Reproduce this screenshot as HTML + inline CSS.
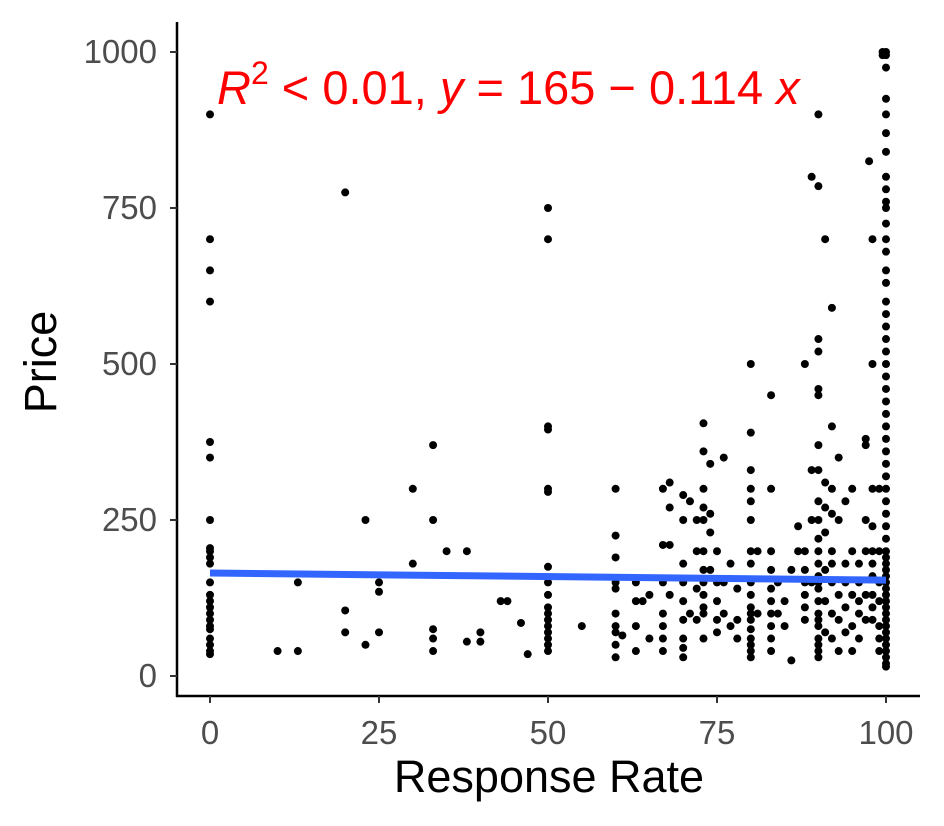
<!DOCTYPE html>
<html><head><meta charset="utf-8"><style>
html,body{margin:0;padding:0;background:#fff}
svg{display:block;font-family:"Liberation Sans",Arial,sans-serif}
</style></head><body>
<svg id="chart" width="944" height="826">
<g id="points"></g>
<g id="axes"></g>
</svg>
<script>
const colX = [0,10,13,20,23,25,30,33,35,38,40,43,44,46,47,50,55,60,61,63,64,65,67,68,70,71,72,73,74,75,76,77,78,80,81,83,84,85,86,87,88,89,90,91,92,93,94,95,96,97,97.5,98,99,99.5,100];
const colY = [
[900,700,650,600,375,350,250,205,200,190,180,150,130,120,110,100,90,80,75,60,50,40,35],
[40],[150,40],[775,105,70],[250,50],[150,135,70],[300,180],[370,250,75,60,40],[200],[200,55],[70,55],[120],[120],[85],[35],
[750,700,400,395,300,295,175,150,130,110,100,90,80,70,60,50,40],[80],
[300,225,190,150,140,100,80,70,50,30],[65],[150,120,80,40],[120],[130,60],[300,210,150,100,80,60,40],[310,270,210,130],
[290,250,180,150,120,90,60,45,30],[280,100],[250,200,140,90],[405,360,300,270,250,200,170,150,130,110,100,60],[340,260,230,170],
[200,150,120,90,70],[350,150,100],[180,80],[140,90,60],
[500,390,330,300,280,250,200,180,150,130,110,100,90,75,60,50,40,30],[200,100],[450,300,200,170,140,120,100,80,60,40],[150,100],[120,80],[25,170],[240,200],
[500,200,170,150,130,110,90],[800,330,250,150],
[900,785,540,520,460,450,370,330,280,250,220,200,180,160,150,140,120,100,90,80,60,50,40,30],
[700,310,270,230,170,120,70],[590,400,300,260,200,180,150,100,60],[350,250,130,90,40],[280,180,150,110,70],[300,200,130,80,40],
[180,150,120,100,60],[380,370,250,200,130,90],[825],[700,500,300,240,200,180,160,130,110,90],[300,200,150,120,80,60,40],[1000,995],
[1000,995,975,925,900,870,840,800,780,760,750,725,700,680,650,630,600,580,560,540,520,500,480,460,440,420,400,380,360,340,320,300,280,260,240,220,200,190,180,170,160,150,140,130,120,110,100,90,80,70,60,50,40,30,20,15]
];
const xTicks = [0,25,50,75,100];
const yTicks = [0,250,500,750,1000];
const fitIntercept = 165, fitSlope = -0.114;

const NS="http://www.w3.org/2000/svg";
const sx = v => 210 + v*6.76;
const sy = v => 676 - v*0.624;
function mk(tag, attrs, parent){const e=document.createElementNS(NS,tag);for(const k in attrs)e.setAttribute(k,attrs[k]);parent.appendChild(e);return e;}
const P=document.getElementById('points'), A=document.getElementById('axes');
colX.forEach((x,i)=>colY[i].forEach(y=>{
  const c=mk('circle',{cx:sx(x),cy:sy(y),r:4,fill:'#000'},P);
  
  
}));
const fl=mk('line',{x1:sx(0),y1:sy(fitIntercept),x2:sx(100),y2:sy(fitIntercept+fitSlope*100),stroke:'#3366FF',"stroke-width":7},P);


const ya=mk('line',{x1:177,y1:22,x2:177,y2:697,stroke:'#000','stroke-width':2.5},A);


const xa=mk('line',{x1:176,y1:696,x2:920,y2:696,stroke:'#000','stroke-width':2.5},A);


yTicks.forEach(t=>{
  mk('line',{x1:170,y1:sy(t),x2:177,y2:sy(t),stroke:'#333','stroke-width':2},A);
  const tx=mk('text',{x:157,y:sy(t)+11,'text-anchor':'end','font-size':33,fill:'#4d4d4d'},A);
  tx.textContent=t;
  
  
});
xTicks.forEach(t=>{
  mk('line',{x1:sx(t),y1:696,x2:sx(t),y2:703,stroke:'#333','stroke-width':2},A);
  const tx=mk('text',{x:sx(t),y:744,'text-anchor':'middle','font-size':33,fill:'#4d4d4d'},A);
  tx.textContent=t;
  
  
});
</script>
<svg width="944" height="826" style="position:absolute;left:0;top:0">
<text x="549" y="792" text-anchor="middle" font-size="45" fill="#000" font-family="Liberation Sans, sans-serif">Response Rate</text>
<text transform="translate(56,362) rotate(-90)" text-anchor="middle" font-size="45" fill="#000" font-family="Liberation Sans, sans-serif">Price</text>
<text x="217" y="104" font-size="47" fill="#ff0000" font-family="Liberation Sans, sans-serif"><tspan font-style="italic">R</tspan><tspan dy="-20" font-size="32">2</tspan><tspan dy="20"> &lt; 0.01, </tspan><tspan font-style="italic">y</tspan> = 165 − 0.114 <tspan font-style="italic">x</tspan></text>
</svg>
</body></html>
